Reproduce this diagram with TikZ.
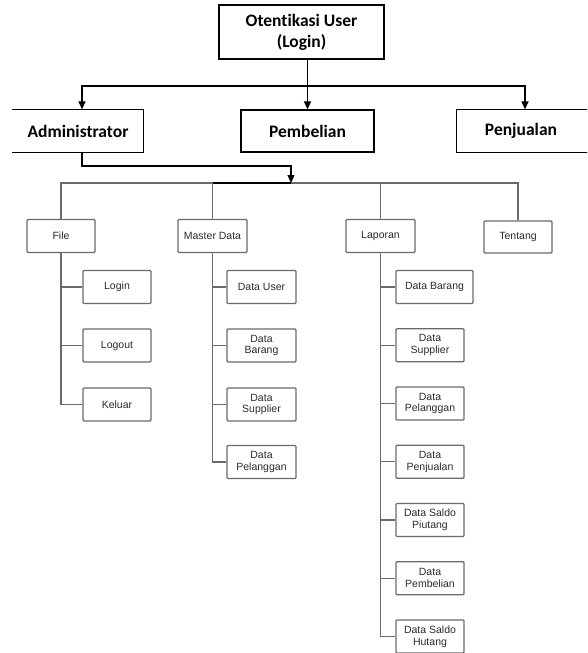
\documentclass[tikz,border=0pt]{standalone}
\usepackage{fontspec}
\setmainfont{Liberation Sans}
\newfontfamily\calib[Ligatures=NoCommon]{Carlito}
\usetikzlibrary{arrows.meta,calc}
\definecolor{linegray}{HTML}{6A6A6A}
\definecolor{textgray}{HTML}{2A2A2A}
\begin{document}
\begin{tikzpicture}[x=1pt,y=-1pt,
 topbox/.style={draw=black,line width=1.2pt,minimum height=42pt,inner sep=0pt,font=\calib\bfseries\fontsize{17.5}{21}\selectfont,align=center},
 sub/.style={draw=linegray,line width=1.3pt,rounded corners=1pt,minimum height=33pt,minimum width=68pt,inner sep=0pt,font=\fontsize{10.5}{11.7}\selectfont,text=textgray,align=center},
 arr/.style={draw=black,line width=1.2pt,-{Triangle[length=8pt,width=7pt]}},
 blk/.style={draw=black,line width=1.2pt},
 gl/.style={draw=linegray,line width=1.3pt}]
\useasboundingbox (0,0) rectangle (587,653);
\clip (0,0) rectangle (587,653);
% top level
\node[topbox,minimum width=165pt,minimum height=54pt] (top) at (301.5,32) {Otentikasi User\\(Login)};
\node[topbox,draw=none,minimum width=130pt] (adm) at (78,131) {Administrator};
\draw[blk] (adm.north west) -- (adm.north east) -- (adm.south east) -- (adm.south west);
\node[topbox,minimum width=133pt] (pemb) at (307.5,131) {Pembelian};
\node[topbox,draw=none,minimum width=128pt] (penj) at (521,131) {Penjualan};
\draw[blk] ($(penj.north east)+(10,0)$) -- (penj.north west) -- (penj.south west) -- ($(penj.south east)+(10,0)$);
\coordinate (bar) at (307.5,86);
\coordinate (hub) at (291,183);
% second level menus
\node[sub] (file) at (61,236) {File};
\node[sub,minimum width=69pt] (mast) at (212.5,236) {Master Data};
\node[sub,minimum width=69pt] (lap) at (380.5,236) {Laporan};
\node[sub,minimum height=32pt] (tent) at (518,237) {Tentang};
% File children
\node[sub] (login) at (117,287) {Login};
\node[sub] (logout) at (117,345.5) {Logout};
\node[sub] (kel) at (117,404.5) {Keluar};
% Master children
\node[sub,minimum width=69pt] (muser) at (261.5,287) {Data User};
\node[sub,minimum width=69pt] (mbar) at (261.5,345.5) {Data\\Barang};
\node[sub,minimum width=69pt] (msup) at (261.5,404.5) {Data\\Supplier};
\node[sub,minimum width=69pt] (mpel) at (261.5,462) {Data\\Pelanggan};
% Laporan children
\node[sub,minimum width=77pt] (lbar) at (434.5,287) {Data Barang};
\node[sub] (lsup) at (430,345.25) {Data\\Supplier};
\node[sub] (lpel) at (430,403.5) {Data\\Pelanggan};
\node[sub] (lpen) at (430,461.75) {Data\\Penjualan};
\node[sub] (lpiu) at (430,520) {Data Saldo\\Piutang};
\node[sub] (lpem) at (430,578.25) {Data\\Pembelian};
\node[sub] (lhut) at (430,636.5) {Data Saldo\\Hutang};
% top connectors
\draw[arr] (top.south -| pemb.north) -- (pemb.north);
\draw[arr] (bar) -| ($(adm.north)+(4,0)$);
\draw[arr] (bar) -| ($(penj.north)+(4,0)$);
% lower bar
\draw[gl] (file.north) -- (file.north |- hub) -- (tent.north |- hub) -- (tent.north);
\draw[gl] (mast.north) -- (mast.north |- hub);
\draw[gl] (lap.north) -- (lap.north |- hub);
\draw[blk] (mast.north |- hub) -- (hub);
\draw[arr] ($(adm.south)+(4,0)$) |- ($(hub)+(0,-17)$) -- (hub);
% File tree
\draw[gl] (file.south) |- (kel.west);
\draw[gl] (file.south |- login.west) -- (login.west);
\draw[gl] (file.south |- logout.west) -- (logout.west);
% Master tree
\draw[gl] (mast.south) |- (mpel.west);
\draw[gl] (mast.south |- muser.west) -- (muser.west);
\draw[gl] (mast.south |- mbar.west) -- (mbar.west);
\draw[gl] (mast.south |- msup.west) -- (msup.west);
% Laporan tree
\draw[gl] (lap.south) |- (lhut.west);
\draw[gl] (lap.south |- lbar.west) -- (lbar.west);
\draw[gl] (lap.south |- lsup.west) -- (lsup.west);
\draw[gl] (lap.south |- lpel.west) -- (lpel.west);
\draw[gl] (lap.south |- lpen.west) -- (lpen.west);
\draw[gl] (lap.south |- lpiu.west) -- (lpiu.west);
\draw[gl] (lap.south |- lpem.west) -- (lpem.west);
\end{tikzpicture}
\end{document}
